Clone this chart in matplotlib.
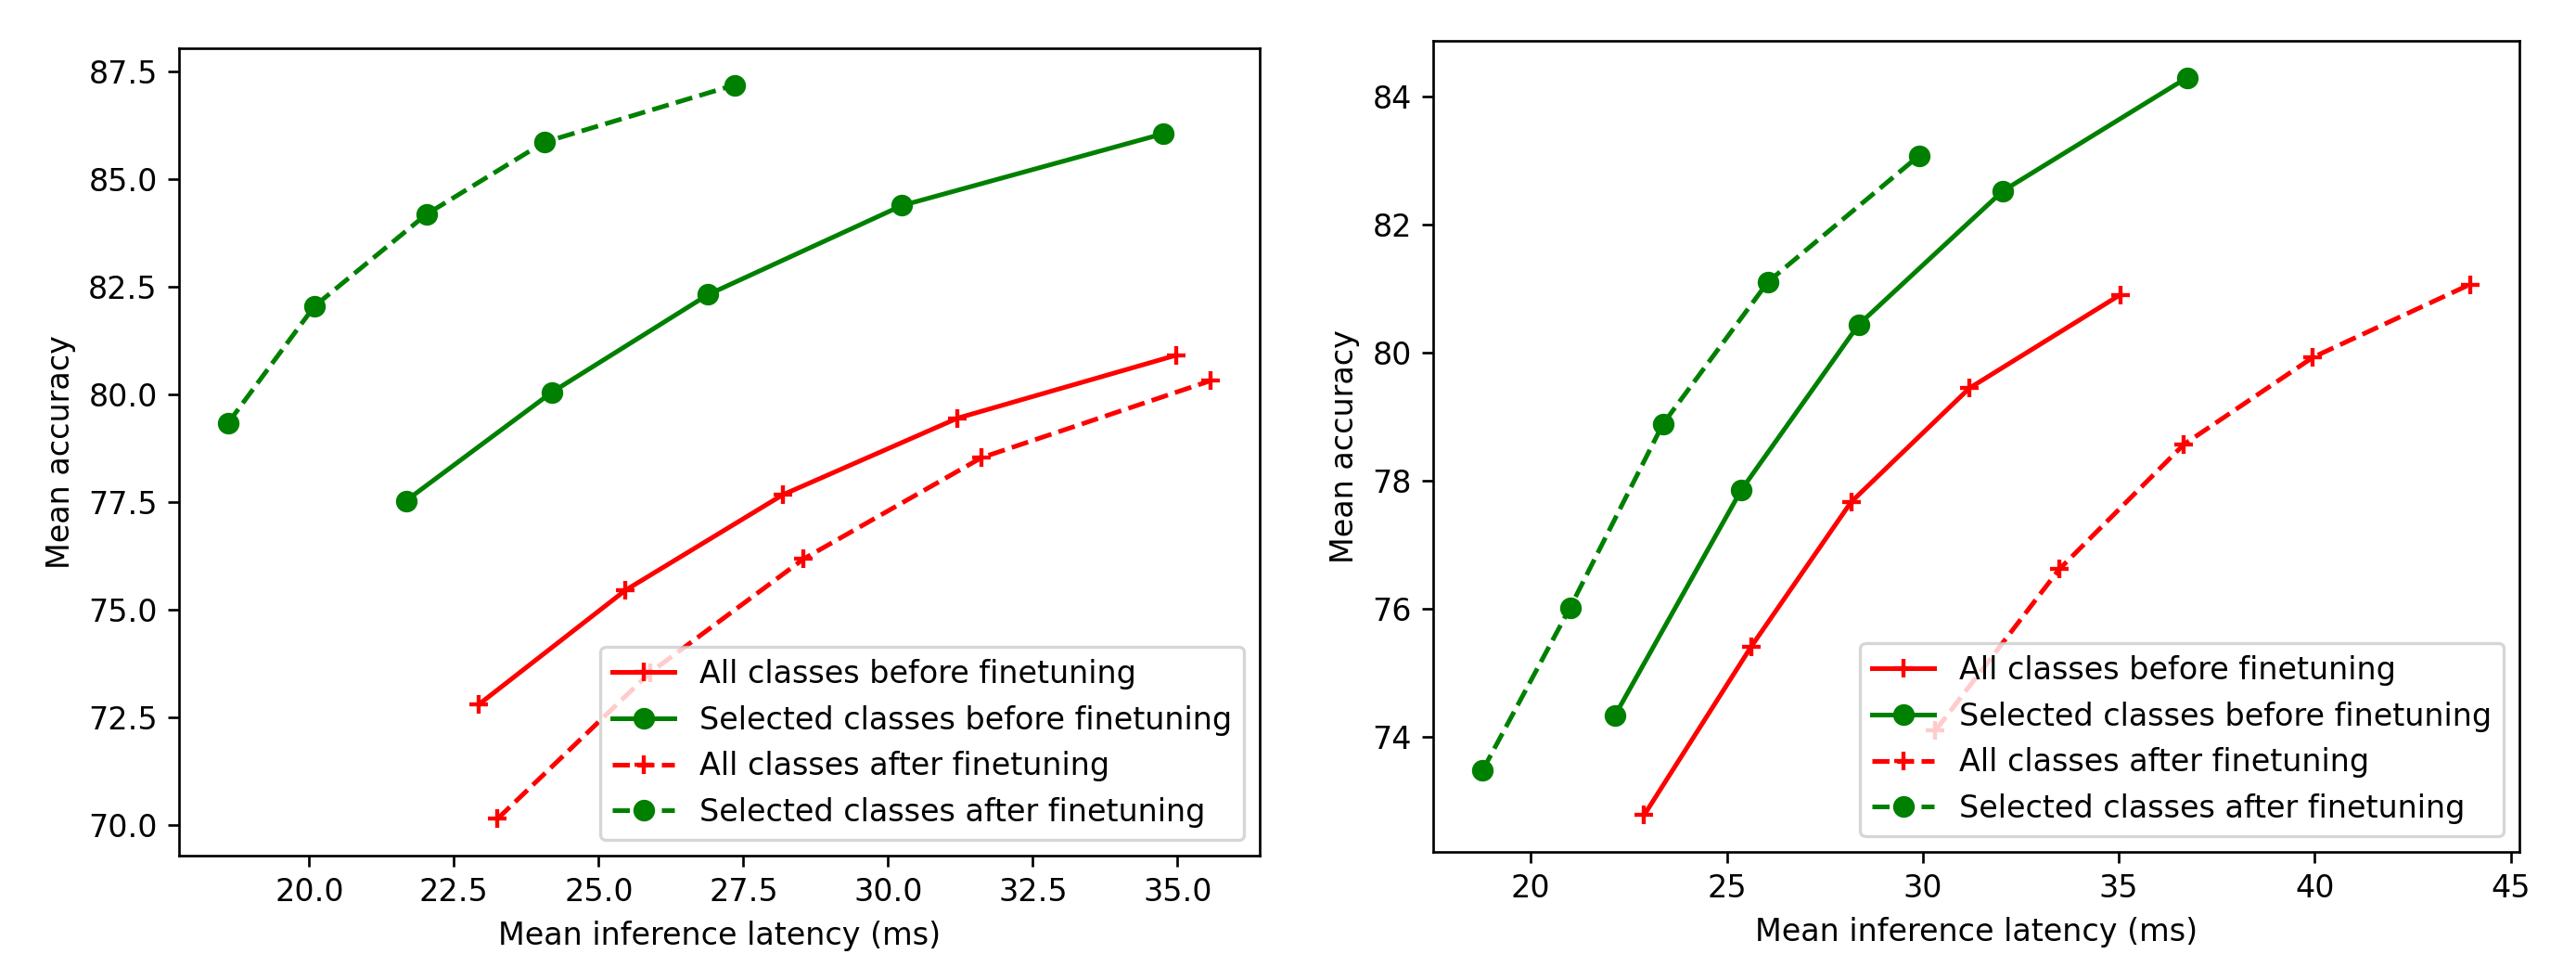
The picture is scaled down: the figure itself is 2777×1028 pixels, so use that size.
import numpy as np
import matplotlib
matplotlib.use('Agg')
import matplotlib.pyplot as plt

dpi = 240
fig = plt.figure(figsize=(2777/dpi, 1028/dpi), dpi=dpi)

labels = ['All classes before finetuning', 'Selected classes before finetuning',
          'All classes after finetuning', 'Selected classes after finetuning']

# left panel
l_all_before_x = [22.93, 25.46, 28.18, 31.20, 34.97]
l_all_before_y = [72.80, 75.45, 77.67, 79.45, 80.91]
l_sel_before_x = [21.67, 24.19, 26.89, 30.24, 34.76]
l_sel_before_y = [77.53, 80.05, 82.32, 84.39, 86.06]
l_all_after_x = [23.25, 25.89, 28.54, 31.61, 35.57]
l_all_after_y = [70.14, 73.54, 76.18, 78.53, 80.32]
l_sel_after_x = [18.60, 20.09, 22.03, 24.06, 27.35]
l_sel_after_y = [79.34, 82.05, 84.19, 85.86, 87.19]

# right panel
r_all_before_x = [22.89, 25.62, 28.17, 31.19, 35.04]
r_all_before_y = [72.78, 75.41, 77.67, 79.45, 80.91]
r_sel_before_x = [22.14, 25.37, 28.36, 32.04, 36.74]
r_sel_before_y = [74.33, 77.86, 80.44, 82.53, 84.30]
r_all_after_x = [30.32, 33.48, 36.66, 39.95, 43.96]
r_all_after_y = [74.10, 76.62, 78.57, 79.93, 81.07]
r_sel_after_x = [18.77, 21.00, 23.37, 26.05, 29.90]
r_sel_after_y = [73.48, 76.02, 78.89, 81.11, 83.08]

ax1 = fig.add_axes([0.0695, 0.1031, 0.4195, 0.8463])
ax2 = fig.add_axes([0.5564, 0.1070, 0.4216, 0.8502])

panels = [
    (ax1, [(l_all_before_x, l_all_before_y), (l_sel_before_x, l_sel_before_y),
           (l_all_after_x, l_all_after_y), (l_sel_after_x, l_sel_after_y)]),
    (ax2, [(r_all_before_x, r_all_before_y), (r_sel_before_x, r_sel_before_y),
           (r_all_after_x, r_all_after_y), (r_sel_after_x, r_sel_after_y)]),
]
styles = [('r', '-', '+'), ('g', '-', 'o'), ('r', '--', '+'), ('g', '--', 'o')]

for ax, series in panels:
    for (x, y), (c, ls, m), lab in zip(series, styles, labels):
        ax.plot(x, y, color=c, linestyle=ls, marker=m, label=lab,
                markeredgewidth=1.3 if m == '+' else 1.0)
    ax.set_xlabel('Mean inference latency (ms)')
    ax.set_ylabel('Mean accuracy')
    ax.legend(loc='lower right')

ax1.set_yticks([70.0, 72.5, 75.0, 77.5, 80.0, 82.5, 85.0, 87.5])
ax1.set_xticks([20.0, 22.5, 25.0, 27.5, 30.0, 32.5, 35.0])

plt.savefig('out.png', dpi=dpi)
